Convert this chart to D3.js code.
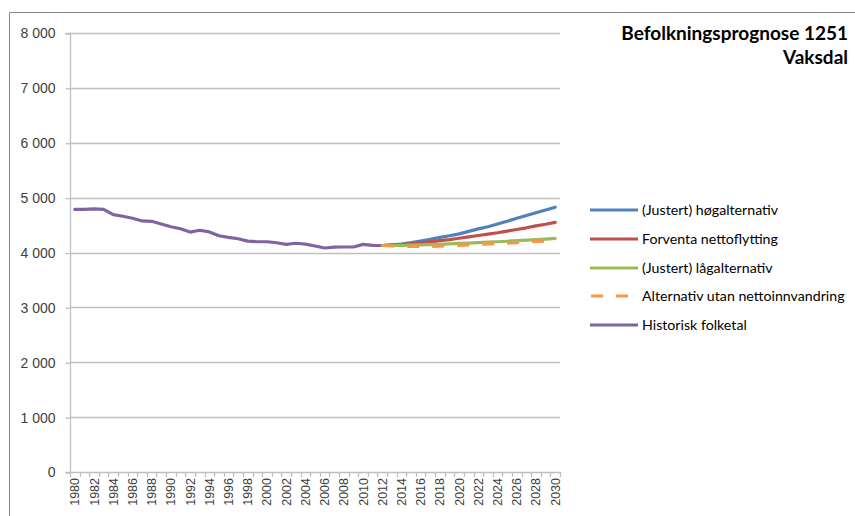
<!DOCTYPE html>
<html><head><meta charset="utf-8">
<script src="https://cdn.jsdelivr.net/npm/d3@7"></script>
<style>body{margin:0;background:#fff}svg{display:block}</style>
</head><body>
<svg id="c" width="855" height="516"></svg>
<script>
const years = d3.range(1980, 2031).map(String);
const histYears = d3.range(1980, 2013).map(String);
const projYears = d3.range(2012, 2031).map(String);
const historisk = [4785,4785,4795,4785,4690,4660,4625,4575,4568,4520,4470,4432,4372,4405,4375,4305,4275,4250,4208,4196,4196,4178,4148,4168,4152,4118,4082,4098,4100,4100,4148,4130,4128];
const hoeg = [4128,4140,4155,4180,4210,4240,4275,4305,4340,4385,4430,4470,4520,4570,4625,4675,4725,4775,4825];
const forventa = [4128,4135,4145,4160,4175,4195,4215,4235,4260,4285,4310,4335,4360,4390,4420,4450,4485,4515,4550];
const laag = [4128,4128,4130,4133,4138,4143,4150,4157,4165,4172,4180,4188,4196,4205,4215,4225,4235,4245,4256];
const utanInnv = [4128,4118,4112,4110,4110,4112,4116,4122,4130,4140,4150,4158,4165,4172,4180,4190,4200,4210,4220];
const yTicks = [0,1000,2000,3000,4000,5000,6000,7000,8000];
const seriesNames = ["(Justert) høgalternativ","Forventa nettoflytting","(Justert) lågalternativ","Alternativ utan nettoinnvandring","Historisk folketal"];
const colors = ["#4F81BD","#C0504D","#9BBB59","#F79646","#8064A2"];
const titleLines = ["Befolkningsprognose 1251","Vaksdal"];

const series = [
  {name: seriesNames[0], years: projYears, values: hoeg, color: colors[0], dash: null},
  {name: seriesNames[1], years: projYears, values: forventa, color: colors[1], dash: null},
  {name: seriesNames[2], years: projYears, values: laag, color: colors[2], dash: null},
  {name: seriesNames[3], years: projYears, values: utanInnv, color: colors[3], dash: "12,13"},
  {name: seriesNames[4], years: histYears, values: historisk, color: colors[4], dash: null}
];

const svg = d3.select("#c");
const L = 70, R = 560, T = 33, B = 472;
const grid = "#BFBFBF";

// chart border
svg.append("path").attr("d","M9.5,516 V12.5 H855").attr("fill","none").attr("stroke","#888").attr("stroke-width",1);

const x = d3.scaleBand().domain(years).range([L, R]).paddingInner(0).paddingOuter(0);
const y = d3.scaleLinear().domain([0, 8000]).range([B, T]);
const loc = d3.formatLocale({decimal: ",", thousands: "\u00a0", grouping: [3], currency: ["", ""]});
const fmt = loc.format(",d");

// gridlines
svg.append("g").selectAll("line").data(yTicks.filter(d => d > 0)).join("line")
  .attr("x1", L).attr("x2", R).attr("y1", d => Math.round(y(d)) + 0.5).attr("y2", d => Math.round(y(d)) + 0.5)
  .attr("stroke", grid).attr("stroke-width", 1.3);

// y axis
const yAxis = svg.append("g").attr("transform", `translate(${L + 0.5},0.5)`)
  .call(d3.axisLeft(y).tickValues(yTicks).tickSize(5).tickPadding(10).tickFormat(d => fmt(d)));
yAxis.select(".domain").attr("stroke", grid).attr("stroke-width", 1.3).attr("d", `M-5,${B}H0V${T}H-5`);
yAxis.selectAll(".tick line").attr("stroke", grid).attr("stroke-width", 1.3);
yAxis.selectAll(".tick text").attr("font-family", "Liberation Sans, Arial, sans-serif").attr("font-size", 14).attr("fill", "#404040");

// x axis: ticks at category boundaries
const xg = svg.append("g");
xg.append("line").attr("x1", L).attr("x2", R).attr("y1", B + 0.5).attr("y2", B + 0.5).attr("stroke", grid).attr("stroke-width", 1.3);
const bounds = years.map(d => x(d)).concat([R]);
xg.selectAll("line.tk").data(bounds).join("line").attr("class","tk")
  .attr("x1", d => Math.round(d) + 0.5).attr("x2", d => Math.round(d) + 0.5).attr("y1", B).attr("y2", B + 5)
  .attr("stroke", grid).attr("stroke-width", 1.3);
xg.selectAll("text").data(years.filter((d, i) => i % 2 === 0)).join("text")
  .attr("transform", d => `translate(${x(d) + x.bandwidth()/2 + 4.5},${B + 6}) rotate(-90)`)
  .attr("text-anchor", "end")
  .attr("font-family", "Liberation Sans, Arial, sans-serif").attr("font-size", 12.5).attr("fill", "#404040")
  .text(d => d);

// lines
const line = d3.line().x(d => x(d[0]) + x.bandwidth()/2).y(d => y(d[1]));
const order = [4, 0, 1, 2, 3];
order.forEach(i => {
  const s = series[i];
  svg.append("path").datum(s.years.map((yr, j) => [yr, s.values[j]]))
    .attr("d", line).attr("fill", "none").attr("stroke", s.color).attr("stroke-width", 3.2)
    .attr("stroke-linejoin", "round").attr("stroke-linecap", s.dash ? "butt" : "round")
    .attr("stroke-dasharray", s.dash);
});

// legend
const lg = svg.append("g");
const rowY = [210, 239, 268, 296, 325];
series.forEach((s, i) => {
  lg.append("line").attr("x1", 590).attr("x2", 638).attr("y1", rowY[i]).attr("y2", rowY[i])
    .attr("stroke", s.color).attr("stroke-width", 3.2).attr("stroke-dasharray", s.dash ? "12,13" : null)
    .attr("stroke-dashoffset", s.dash ? -1 : null);
  lg.append("text").attr("x", 642).attr("y", rowY[i] + 5)
    .attr("font-family", "Lato, Open Sans, sans-serif").attr("font-size", 14.2).attr("fill", "#000")
    .text(s.name);
});

// title
const tt = svg.append("text").attr("text-anchor", "end")
  .attr("font-family", "Lato, Open Sans, sans-serif").attr("font-weight", "bold").attr("font-size", 19).attr("fill", "#000");
titleLines.forEach((t, i) => tt.append("tspan").attr("x", 848).attr("y", 40 + i * 24).text(t));
</script>
</body></html>
